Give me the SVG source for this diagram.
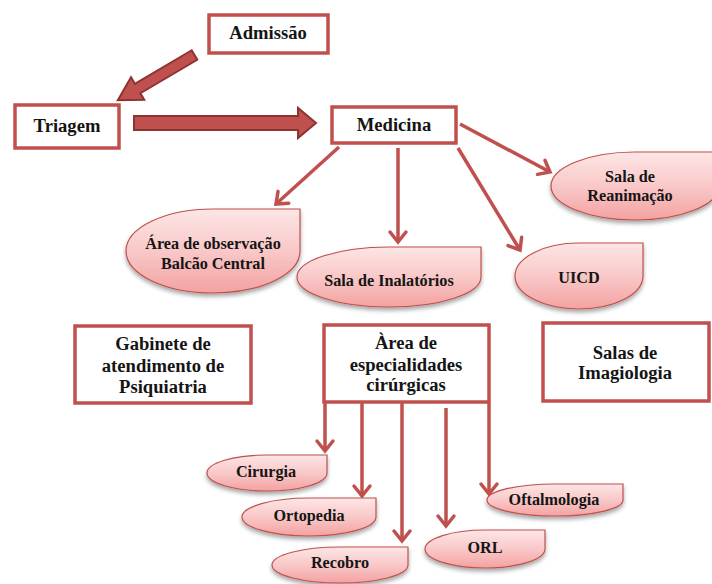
<svg xmlns="http://www.w3.org/2000/svg" width="712" height="584" viewBox="0 0 712 584">
<style>
.box{fill:#fff;stroke:#c0504d;stroke-width:3.5}
.shape{fill:url(#pinkGrad);stroke:#c0504d;stroke-width:1.2;filter:url(#shadow)}
text{font-family:'Liberation Serif','Times New Roman',serif;font-weight:bold;fill:#151515;text-anchor:middle}
.big{font-size:18.6px}
.small{font-size:16.2px}
.conn{stroke:#c0504d;stroke-width:3.5;fill:none;marker-end:url(#arr)}
.block{fill:#c0504d;stroke:#8c3432;stroke-width:2;stroke-linejoin:miter}
</style>
<defs>
<linearGradient id="pinkGrad" x1="0" y1="0" x2="0" y2="1">
<stop offset="0" stop-color="#fde6e6"/>
<stop offset="0.5" stop-color="#f9c8c8"/>
<stop offset="1" stop-color="#f3a2a1"/>
</linearGradient>
<filter id="shadow" x="-10%" y="-10%" width="130%" height="140%">
<feDropShadow dx="0" dy="3" stdDeviation="2" flood-color="#000" flood-opacity="0.35"/>
</filter>
<marker id="arr" markerUnits="userSpaceOnUse" markerWidth="22" markerHeight="22" viewBox="0 0 22 22" refX="13" refY="11" orient="auto">
<path d="M3,3 L13,11 L3,19" fill="none" stroke="#c0504d" stroke-width="3.5" stroke-linecap="round"/>
</marker>
</defs>

<g id="connectors">
<polygon class="block" transform="translate(194.5,55) rotate(149.5)" points="0,-5.5 66,-5.5 66,-13 89,0 66,13 66,5.5 0,5.5"/>
<polygon class="block" points="134,116 298,116 298,108 316,123 298,138 298,130 134,130"/>
<line class="conn" x1="339" y1="147" x2="276" y2="204"/>
<line class="conn" x1="398" y1="148" x2="398" y2="242"/>
<line class="conn" x1="458" y1="148" x2="520" y2="250"/>
<line class="conn" x1="460" y1="124" x2="550" y2="172"/>
<line class="conn" x1="325" y1="403" x2="325" y2="451"/>
<line class="conn" x1="362" y1="403" x2="362" y2="496"/>
<line class="conn" x1="402" y1="403" x2="402" y2="541"/>
<line class="conn" x1="446" y1="408" x2="446" y2="526"/>
<line class="conn" x1="489" y1="403" x2="489" y2="494"/>
</g>

<g id="admissao">
<rect class="box" x="209" y="15" width="119" height="38"/>
<text class="big" x="268" y="39">Admissão</text>
</g>
<g id="triagem">
<rect class="box" x="15" y="105" width="104" height="43"/>
<text class="big" x="67" y="132">Triagem</text>
</g>
<g id="medicina">
<rect class="box" x="332" y="107" width="124" height="36"/>
<text class="big" x="394" y="131">Medicina</text>
</g>

<g id="area-observacao">
<path class="shape" d="M213,209 L300,209 L300,251 A87,42 0 0 1 213,293 A87,42 0 0 1 126,251 A87,42 0 0 1 213,209 Z"/>
<text class="small" x="213" y="249">Área de observação</text>
<text class="small" x="213" y="269">Balcão Central</text>
</g>
<g id="sala-inalatorios">
<path class="shape" d="M389,247 L481,247 L481,277 A92,30 0 0 1 389,307 A92,30 0 0 1 297,277 A92,30 0 0 1 389,247 Z"/>
<text class="small" x="389" y="286">Sala de Inalatórios</text>
</g>
<g id="uicd">
<path class="shape" d="M579,243 L643,243 L643,276 A64,33 0 0 1 579,309 A64,33 0 0 1 515,276 A64,33 0 0 1 579,243 Z"/>
<text class="small" x="579" y="283">UICD</text>
</g>
<g id="sala-reanimacao">
<path class="shape" d="M635,152 L719,152 L719,186 A84,34 0 0 1 635,220 A84,34 0 0 1 551,186 A84,34 0 0 1 635,152 Z"/>
<text class="small" x="630" y="182">Sala de</text>
<text class="small" x="630" y="201">Reanimação</text>
</g>

<g id="gabinete-psiquiatria">
<rect class="box" x="75" y="326" width="176" height="77"/>
<text class="big" x="163" y="350">Gabinete de</text>
<text class="big" x="163" y="372">atendimento de</text>
<text class="big" x="163" y="393">Psiquiatria</text>
</g>
<g id="area-especialidades">
<rect class="box" x="324" y="325" width="165" height="77"/>
<text class="big" x="406" y="349">Àrea de</text>
<text class="big" x="406" y="371">especialidades</text>
<text class="big" x="406" y="391">cirúrgicas</text>
</g>
<g id="salas-imagiologia">
<rect class="box" x="543" y="323" width="166" height="78"/>
<text class="big" x="625" y="359">Salas de</text>
<text class="big" x="625" y="379">Imagiologia</text>
</g>

<g id="cirurgia">
<path class="shape" d="M267,455 L327,455 L327,473 A60,18 0 0 1 267,491 A60,18 0 0 1 207,473 A60,18 0 0 1 267,455 Z"/>
<text class="small" x="266" y="477">Cirurgia</text>
</g>
<g id="ortopedia">
<path class="shape" d="M309,498 L376,498 L376,517 A67,19 0 0 1 309,536 A67,19 0 0 1 242,517 A67,19 0 0 1 309,498 Z"/>
<text class="small" x="309" y="521">Ortopedia</text>
</g>
<g id="recobro">
<path class="shape" d="M340,547 L408,547 L408,565 A68,18 0 0 1 340,583 A68,18 0 0 1 272,565 A68,18 0 0 1 340,547 Z"/>
<text class="small" x="340" y="568">Recobro</text>
</g>
<g id="orl">
<path class="shape" d="M485,530 L545,530 L545,549 A60,19 0 0 1 485,568 A60,19 0 0 1 425,549 A60,19 0 0 1 485,530 Z"/>
<text class="small" x="485" y="553">ORL</text>
</g>
<g id="oftalmologia">
<path class="shape" d="M555,484 L623,484 L623,500 A68,16 0 0 1 555,516 A68,16 0 0 1 487,500 A68,16 0 0 1 555,484 Z"/>
<text class="small" x="554" y="505">Oftalmologia</text>
</g>
</svg>
